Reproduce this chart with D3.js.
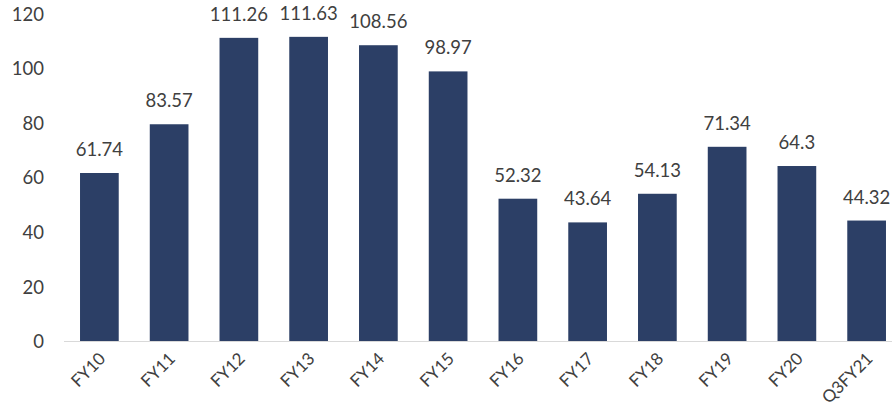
<!DOCTYPE html>
<html>
<head>
<meta charset="utf-8">
<script src="https://d3js.org/d3.v7.min.js"></script>
<style>
  body { margin: 0; background: #fff; }
  text { font-family: Lato, "Open Sans", sans-serif; fill: #404040; }
</style>
</head>
<body>
<div id="chart"></div>
<script>
// categories and values
var categories = ["FY10", "FY11", "FY12", "FY13", "FY14", "FY15", "FY16", "FY17", "FY18", "FY19", "FY20", "Q3FY21"];
var values = [61.74, 79.6, 111.26, 111.63, 108.56, 98.97, 52.32, 43.64, 54.13, 71.34, 64.3, 44.32];
var valueLabels = ["61.74", "83.57", "111.26", "111.63", "108.56", "98.97", "52.32", "43.64", "54.13", "71.34", "64.3", "44.32"];
var yTicks = [0, 20, 40, 60, 80, 100, 120];

var width = 892, height = 408;

var svg = d3.select("#chart").append("svg")
  .attr("width", width)
  .attr("height", height);

var x = d3.scaleBand()
  .domain(categories)
  .range([64.5, 901.5])
  .paddingInner(0.445)
  .paddingOuter(0.2225);

var y = d3.scaleLinear()
  .domain([0, 120])
  .range([341.5, 14]);

// y tick labels (no axis line, no gridlines)
svg.append("g").selectAll("text")
  .data(yTicks)
  .enter().append("text")
  .attr("x", 44)
  .attr("y", function(d) { return y(d); })
  .attr("dy", "0.36em")
  .attr("text-anchor", "end")
  .style("font-size", "18.5px")
  .text(function(d) { return d; });

// bars
svg.append("g").selectAll("rect")
  .data(values)
  .enter().append("rect")
  .attr("x", function(d, i) { return x(categories[i]); })
  .attr("y", function(d) { return y(d); })
  .attr("width", x.bandwidth())
  .attr("height", function(d) { return y(0) - y(d); })
  .attr("fill", "#2c3f66");

// baseline
svg.append("line")
  .attr("x1", 64).attr("x2", width)
  .attr("y1", y(0)).attr("y2", y(0))
  .attr("stroke", "#d9d9d9")
  .attr("stroke-width", 1.2);

// data labels
svg.append("g").selectAll("text")
  .data(values)
  .enter().append("text")
  .attr("x", function(d, i) { return x(categories[i]) + x.bandwidth() / 2; })
  .attr("y", function(d) { return y(d) - 17; })
  .attr("text-anchor", "middle")
  .style("font-size", "18.5px")
  .text(function(d, i) { return valueLabels[i]; });

// x labels, rotated
svg.append("g").selectAll("text")
  .data(categories)
  .enter().append("text")
  .attr("transform", function(d) {
    return "translate(" + (x(d) + x.bandwidth() / 2 + 3) + "," + (y(0) + 14) + ") rotate(-45)";
  })
  .attr("text-anchor", "end")
  .attr("dy", "0.35em")
  .style("font-size", "17px")
  .text(function(d) { return d; });
</script>
</body>
</html>
